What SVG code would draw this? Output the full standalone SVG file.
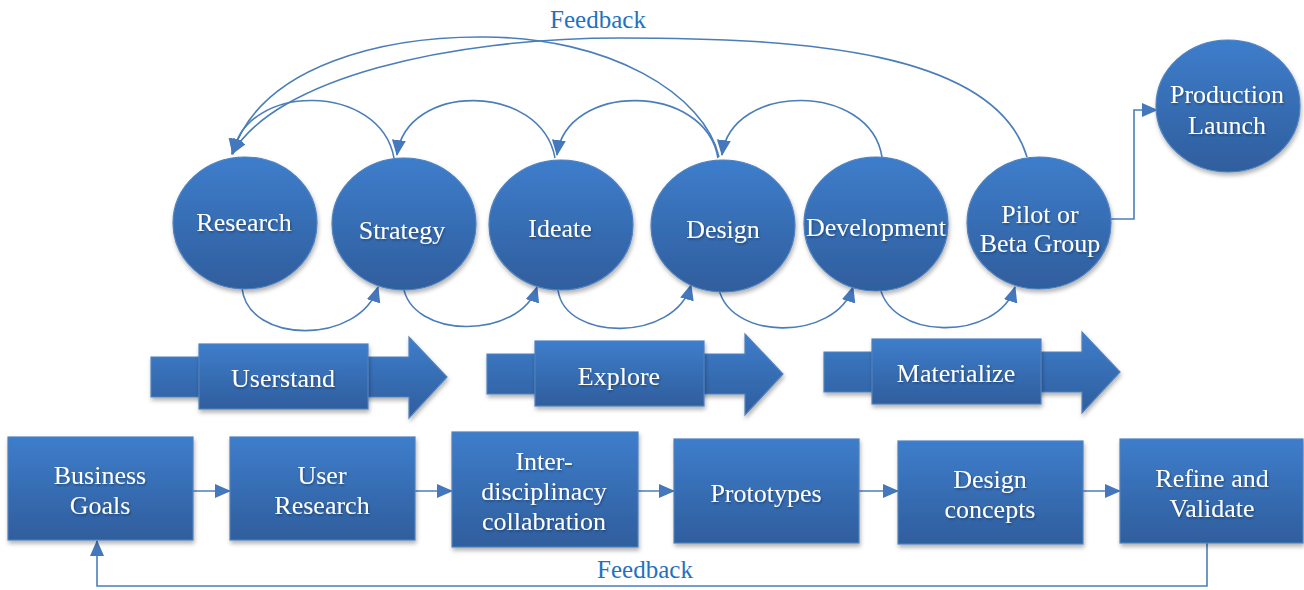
<svg xmlns="http://www.w3.org/2000/svg" width="1304" height="590" viewBox="0 0 1304 590">
<defs>
<linearGradient id="g" x1="0" y1="0" x2="0" y2="1">
<stop offset="0" stop-color="#3e7dcb"/>
<stop offset="1" stop-color="#2f5e9d"/>
</linearGradient>
<filter id="sh" x="-10%" y="-10%" width="130%" height="130%">
<feDropShadow dx="1" dy="3" stdDeviation="2" flood-color="#000" flood-opacity="0.3"/>
</filter>
<filter id="ts" x="-10%" y="-20%" width="120%" height="150%">
<feDropShadow dx="1" dy="1.5" stdDeviation="1" flood-color="#000" flood-opacity="0.35"/>
</filter>
<marker id="ah" markerUnits="userSpaceOnUse" markerWidth="16" markerHeight="14" viewBox="0 0 16 14" refX="15" refY="7" orient="auto">
<path d="M0,0 L16,7 L0,14 z" fill="#4477bb"/>
</marker>
</defs>
<style>
.n{fill:url(#g);stroke:#4f81bd;stroke-width:1.2;filter:url(#sh)}
.t{font-family:"Liberation Serif","Times New Roman",serif;font-size:26px;fill:#fff;text-anchor:middle;filter:url(#ts)}
.c{fill:none;stroke:#4a7ebb;stroke-width:1.6}
.ca{fill:none;stroke:#4a7ebb;stroke-width:1.6;marker-end:url(#ah)}
.fb{font-family:"Liberation Serif","Times New Roman",serif;font-size:25px;fill:#1f72c0;text-anchor:middle}
</style>

<g id="connectors">
<path class="ca" d="M719 157 C705 95 610 36 480 37 C390 37 262 62 232 154"/>
<path class="ca" d="M1027 157 C995 50 800 38 620 38 C450 38 275 78 232 154"/>
<path class="ca" d="M394 158 C380 82 245 82 233 154"/>
<path class="ca" d="M555 158 C541 82 406 82 397 155"/>
<path class="ca" d="M718 158 C705 82 566 82 557 155"/>
<path class="ca" d="M882 157 C870 82 731 82 722 155"/>
<path class="ca" d="M242 288 C248 345 360 345 378 287"/>
<path class="ca" d="M403 285 C410 340 520 340 537 287"/>
<path class="ca" d="M558 290 C565 342 675 342 691 285"/>
<path class="ca" d="M718 284 C725 342 836 342 853 287"/>
<path class="ca" d="M879 282 C886 342 998 342 1015 287"/>
<path class="ca" d="M1111 219 L1134 219 L1134 110 L1157 110"/>
<path class="ca" d="M193 491 L230 491"/>
<path class="ca" d="M415 491 L452 491"/>
<path class="ca" d="M638 491 L674 491"/>
<path class="ca" d="M859 491 L898 491"/>
<path class="ca" d="M1083 491 L1120 491"/>
<path class="ca" d="M1207 543 L1207 586 L97 586 L97 541"/>
</g>

<text class="fb" x="598" y="28">Feedback</text>
<text class="fb" x="645" y="578">Feedback</text>

<g id="research"><ellipse class="n" cx="245" cy="223" rx="72" ry="66"/><text class="t" x="244" y="231">Research</text></g>
<g id="strategy"><ellipse class="n" cx="404" cy="224" rx="72" ry="66"/><text class="t" x="402" y="239">Strategy</text></g>
<g id="ideate"><ellipse class="n" cx="561" cy="225" rx="72" ry="65"/><text class="t" x="560" y="237">Ideate</text></g>
<g id="design"><ellipse class="n" cx="723" cy="226" rx="72" ry="66"/><text class="t" x="723" y="238">Design</text></g>
<g id="development"><ellipse class="n" cx="876" cy="224" rx="72" ry="67"/><text class="t" x="876" y="236">Development</text></g>
<g id="pilot"><ellipse class="n" cx="1039" cy="223" rx="72" ry="66"/><text class="t" x="1040" y="223">Pilot or</text><text class="t" x="1040" y="252">Beta Group</text></g>
<g id="production"><ellipse class="n" cx="1228" cy="106" rx="72" ry="66"/><text class="t" x="1227" y="103">Production</text><text class="t" x="1227" y="134">Launch</text></g>

<g id="userstand">
<path class="n" d="M151 357 L409 357 L409 337 L447 377 L409 418 L409 397 L151 397 z"/>
<rect class="n" x="199" y="344" width="169" height="65"/>
<text class="t" x="283" y="387">Userstand</text>
</g>
<g id="explore">
<path class="n" d="M487 354 L745 354 L745 334 L783 374 L745 415 L745 394 L487 394 z"/>
<rect class="n" x="535" y="341" width="169" height="65"/>
<text class="t" x="619" y="385">Explore</text>
</g>
<g id="materialize">
<path class="n" d="M824 352 L1082 352 L1082 332 L1120 372 L1082 413 L1082 392 L824 392 z"/>
<rect class="n" x="872" y="339" width="169" height="65"/>
<text class="t" x="956" y="382">Materialize</text>
</g>

<g id="business"><rect class="n" x="8" y="437" width="185" height="103"/><text class="t" x="100" y="484">Business</text><text class="t" x="100" y="514">Goals</text></g>
<g id="userresearch"><rect class="n" x="230" y="437" width="185" height="103"/><text class="t" x="322" y="484">User</text><text class="t" x="322" y="514">Research</text></g>
<g id="inter"><rect class="n" x="452" y="432" width="186" height="115"/><text class="t" x="544" y="470">Inter-</text><text class="t" x="544" y="500">disciplinacy</text><text class="t" x="544" y="530">collabration</text></g>
<g id="prototypes"><rect class="n" x="674" y="439" width="185" height="104"/><text class="t" x="766" y="502">Prototypes</text></g>
<g id="designconcepts"><rect class="n" x="898" y="441" width="185" height="103"/><text class="t" x="990" y="488">Design</text><text class="t" x="990" y="518">concepts</text></g>
<g id="refine"><rect class="n" x="1120" y="439" width="183" height="104"/><text class="t" x="1212" y="487">Refine and</text><text class="t" x="1212" y="517">Validate</text></g>
</svg>
